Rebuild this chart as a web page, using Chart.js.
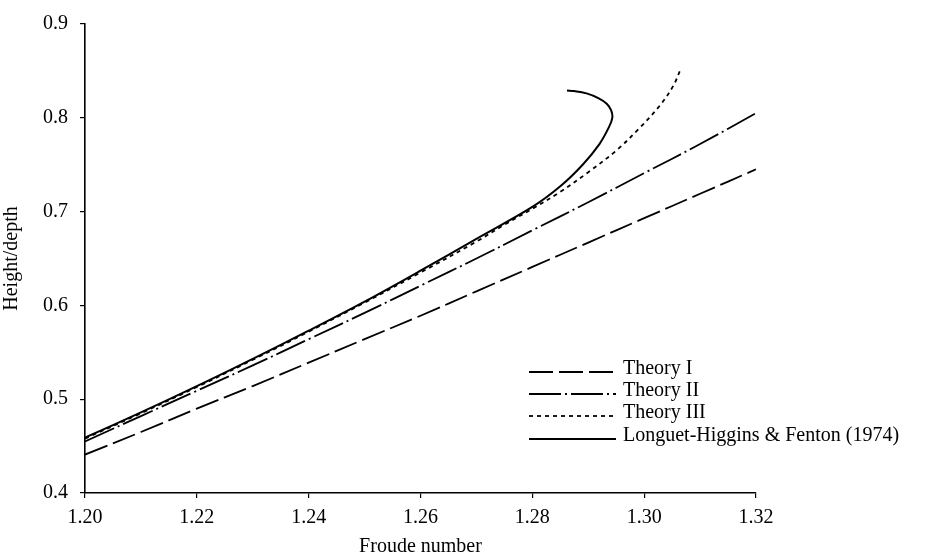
<!DOCTYPE html>
<html>
<head>
<meta charset="utf-8">
<script src="https://cdn.jsdelivr.net/npm/chart.js@4.4.1/dist/chart.umd.min.js"></script>
<style>
  html, body { margin: 0; padding: 0; background: #fff; }
  canvas { display: block; }
</style>
</head>
<body>
<canvas id="froude" width="941" height="559"></canvas>
<script>
// Froude number vs wave height/depth for the solitary wave
const froude = [1.20, 1.21, 1.22, 1.23, 1.24, 1.25, 1.26, 1.27, 1.28, 1.29, 1.30, 1.31, 1.32]
const theoryI = [0.441, 0.465, 0.490, 0.514, 0.539, 0.564, 0.589, 0.615, 0.641, 0.667, 0.693, 0.719, 0.745]
const theoryII = [0.455, 0.482, 0.509, 0.536, 0.564, 0.592, 0.621, 0.650, 0.680, 0.710, 0.741, 0.772, 0.805]

const froudeIII = [1.20, 1.21, 1.22, 1.23, 1.24, 1.25, 1.26, 1.27, 1.275, 1.28, 1.285, 1.29, 1.295, 1.299, 1.3028, 1.3052, 1.3066]
const theoryIII = [0.458, 0.485, 0.513, 0.542, 0.572, 0.603, 0.635, 0.668, 0.686, 0.703, 0.721, 0.742, 0.765, 0.788, 0.813, 0.834, 0.853]

// exact solution turns back on itself near the top
const froudeLHF = [1.20, 1.21, 1.22, 1.23, 1.24, 1.25, 1.26, 1.27, 1.28, 1.285, 1.289, 1.292, 1.2937, 1.2943, 1.2941, 1.2933, 1.2918, 1.2897, 1.2875, 1.2862]
const heightLHF = [0.459, 0.486, 0.514, 0.543, 0.573, 0.604, 0.637, 0.671, 0.705, 0.727, 0.750, 0.772, 0.790, 0.800, 0.808, 0.815, 0.821, 0.826, 0.8285, 0.829]

const labels = ['Theory I', 'Theory II', 'Theory III', 'Longuet-Higgins & Fenton (1974)']

function pts(xs, ys) {
  return xs.map((x, i) => ({ x: x, y: ys[i] }))
}

const serif = "'Liberation Serif', 'DejaVu Serif', serif"

function line(label, data, dash, width) {
  return {
    label: label,
    data: data,
    borderColor: '#000',
    borderWidth: width,
    borderDash: dash,
    pointRadius: 0,
    fill: false,
    tension: 0.35,
    showLine: true,
  }
}

// hand drawn key, sample line sits on the text baseline
const keyPlugin = {
  id: 'key',
  afterDraw(chart) {
    const ctx = chart.ctx
    const rows = [374, 396, 418, 441]
    ctx.save()
    ctx.font = '20px ' + serif
    ctx.fillStyle = '#000'
    ctx.textBaseline = 'alphabetic'
    chart.data.datasets.forEach((ds, i) => {
      const y = rows[i] - 2
      ctx.beginPath()
      ctx.strokeStyle = '#000'
      ctx.lineWidth = ds.borderWidth
      ctx.setLineDash(ds.borderDash || [])
      ctx.moveTo(529, y)
      ctx.lineTo(616, y)
      ctx.stroke()
      ctx.setLineDash([])
      ctx.fillText(ds.label, 623, rows[i])
    })
    ctx.restore()
  }
}

const config = {
  type: 'scatter',
  data: {
    datasets: [
      line(labels[0], pts(froude, theoryI), [24, 6], 1.8),
      line(labels[1], pts(froude, theoryII), [32, 4, 2, 4], 1.8),
      line(labels[2], pts(froudeIII, theoryIII), [4, 4], 1.8),
      line(labels[3], pts(froudeLHF, heightLHF), [], 2),
    ],
  },
  options: {
    responsive: false,
    animation: false,
    layout: { padding: { top: 17, right: 185, left: 0, bottom: 0 } },
    plugins: {
      legend: { display: false },
      tooltip: { enabled: false },
    },
    scales: {
      x: {
        type: 'linear',
        min: 1.20,
        max: 1.32,
        afterFit(s) { s.height = 66 },
        border: { display: true, color: '#000', width: 1.6 },
        grid: { drawOnChartArea: false, drawTicks: true, tickLength: 5, color: '#000', lineWidth: 1.2 },
        ticks: {
          stepSize: 0.02,
          color: '#000',
          padding: 8,
          font: { family: serif, size: 20 },
          callback: v => v.toFixed(2),
        },
        title: {
          display: true,
          text: 'Froude number',
          color: '#000',
          font: { family: serif, size: 20 },
          padding: { top: 1, bottom: 0 },
        },
      },
      y: {
        min: 0.4,
        max: 0.9,
        afterFit(s) { s.width = 85 },
        border: { display: true, color: '#000', width: 1.6 },
        grid: { drawOnChartArea: false, drawTicks: true, tickLength: 5, color: '#000', lineWidth: 1.2 },
        ticks: {
          stepSize: 0.1,
          color: '#000',
          padding: 12,
          font: { family: serif, size: 20 },
          callback: v => v.toFixed(1),
        },
        title: {
          display: true,
          text: 'Height/depth',
          color: '#000',
          font: { family: serif, size: 20 },
          padding: { top: 0, bottom: 0 },
        },
      },
    },
  },
  plugins: [keyPlugin],
}

const ctx = document.getElementById('froude')
window.froudeChart = new Chart(ctx, config)
</script>
</body>
</html>
